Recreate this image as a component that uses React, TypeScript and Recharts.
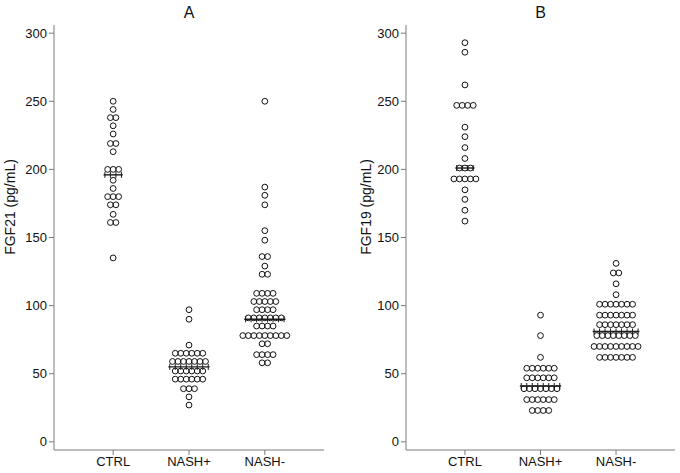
import { ScatterChart, Scatter, XAxis, YAxis } from 'recharts';

const groups = ['CTRL', 'NASH+', 'NASH-'];
const yTicks = [0, 50, 100, 150, 200, 250, 300];

// FGF21 (panel A), binned values as drawn
const fgf21Ctrl = [250, 244, 238, 238, 232, 226, 219, 219, 213, 200, 200, 200, 192, 186, 180, 180, 180, 174, 174, 167, 161, 161, 135];
const fgf21NashPos = [
  97, 90, 71,
  65, 65, 65, 65, 65, 65,
  59, 59, 59, 59, 59, 59, 59,
  52, 52, 52, 52, 52, 52,
  46, 46, 46, 46, 46, 46,
  39, 39, 39, 33, 27,
];
const fgf21NashNeg = [
  250, 187, 181, 174, 155, 148, 136, 136, 129, 123, 123,
  109, 109, 109, 109,
  103, 103, 103, 103, 103,
  97, 97, 97, 97,
  91, 91, 91, 91, 91, 91, 91,
  85, 85, 85, 85,
  78, 78, 78, 78, 78, 78, 78, 78, 78,
  72, 72,
  64, 64, 64, 64,
  58, 58,
];
const fgf21Medians = [196, 55, 90];

// FGF19 (panel B)
const fgf19Ctrl = [293, 286, 262, 247, 247, 247, 247, 231, 224, 216, 208, 201, 201, 201, 193, 193, 193, 193, 193, 185, 178, 170, 162];
const fgf19NashPos = [
  93, 78, 62,
  54, 54, 54, 54, 54, 54,
  47, 47, 47, 47, 47, 47,
  39, 39, 39, 39, 39, 39, 39,
  31, 31, 31, 31, 31, 31,
  23, 23, 23, 23,
];
const fgf19NashNeg = [
  131, 124, 124, 116, 108,
  101, 101, 101, 101, 101, 101, 101,
  93, 93, 93, 93, 93, 93, 93,
  86, 86, 86, 86, 86, 86, 86,
  78, 78, 78, 78, 78, 78, 78, 78,
  70, 70, 70, 70, 70, 70, 70, 70, 70,
  62, 62, 62, 62, 62, 62, 62,
];
const fgf19Medians = [201, 41, 81];

const DOT_GAP = 5.5;
const FONT = 'Liberation Sans, Arial, Helvetica, sans-serif';
const AXIS = '#7a7a7a';

function countRows(values: number[]) {
  const counts = new Map<number, number>();
  values.forEach((v) => counts.set(v, (counts.get(v) ?? 0) + 1));
  return counts;
}

function toPoints(values: number[], x: number) {
  const counts = countRows(values);
  const seen = new Map<number, number>();
  return values.map((v) => {
    const n = counts.get(v)!;
    const k = seen.get(v) ?? 0;
    seen.set(v, k + 1);
    return { x, y: v, slot: k - (n - 1) / 2 };
  });
}

function medianPoints(sets: number[][], medians: number[]) {
  return medians.map((m, i) => {
    const counts = countRows(sets[i]);
    let n = 1;
    counts.forEach((c, v) => {
      if (Math.abs(v - m) <= 5) n = Math.max(n, c);
    });
    return { x: i + 1, y: m, n };
  });
}

function Dot(props: any) {
  const { cx, cy, payload } = props;
  return (
    <circle
      cx={cx + payload.slot * DOT_GAP}
      cy={cy}
      r={2.9}
      fill="none"
      stroke="#111"
      strokeWidth={1}
    />
  );
}

function MedianMark(props: any) {
  const { cx, cy, payload } = props;
  const hw = ((payload.n + 0.5) * DOT_GAP) / 2;
  const ticks: number[] = [];
  for (let k = 0; k <= payload.n; k++) ticks.push(k - payload.n / 2);
  return (
    <g>
      <line x1={cx - hw} x2={cx + hw} y1={cy} y2={cy} stroke="#1a1a1a" strokeWidth={1.4} />
      {ticks.map((t) => (
        <line
          key={t}
          x1={cx + t * DOT_GAP}
          x2={cx + t * DOT_GAP}
          y1={cy - 3}
          y2={cy + 3}
          stroke="#1a1a1a"
          strokeWidth={1}
        />
      ))}
    </g>
  );
}

interface PanelProps {
  title: string;
  yLabel: string;
  sets: number[][];
  medians: number[];
  width: number;
  right: number;
  labelX: number;
}

function Panel({ title, yLabel, sets, medians, width, right, labelX }: PanelProps) {
  const medData = medianPoints(sets, medians);
  return (
    <div style={{ position: 'relative', width, height: 473 }}>
      <div
        style={{
          position: 'absolute',
          left: 54,
          width: width - 54 - right,
          top: 4,
          textAlign: 'center',
          fontFamily: FONT,
          fontSize: 16,
          color: '#111',
        }}
      >
        {title}
      </div>
      <ScatterChart width={width} height={473} margin={{ top: 25, right, bottom: 0, left: 14 }}>
        <XAxis
          type="number"
          dataKey="x"
          domain={[0.22, 3.78]}
          ticks={[1, 2, 3]}
          tickFormatter={(v: number) => groups[v - 1] ?? ''}
          height={23}
          stroke={AXIS}
          tick={{ fontSize: 13, fill: '#111', fontFamily: FONT }}
          tickSize={5}
          allowDataOverflow
        />
        <YAxis
          type="number"
          dataKey="y"
          domain={[-6, 306]}
          ticks={yTicks}
          width={40}
          stroke={AXIS}
          tick={{ fontSize: 13, fill: '#111', fontFamily: FONT }}
          tickSize={5}
          allowDataOverflow
          label={() => (
            <text
              transform={`translate(${labelX},207) rotate(-90)`}
              textAnchor="middle"
              dominantBaseline="central"
              fontSize={14}
              fontFamily={FONT}
              fill="#111"
            >
              {yLabel}
            </text>
          )}
        />
        {sets.map((vals, i) => (
          <Scatter
            key={groups[i]}
            data={toPoints(vals, i + 1)}
            shape={Dot}
            isAnimationActive={false}
          />
        ))}
        <Scatter data={medData} shape={MedianMark} isAnimationActive={false} />
      </ScatterChart>
    </div>
  );
}

export default function App() {
  return (
    <div
      style={{
        position: 'absolute',
        left: 0,
        top: 0,
        width: 680,
        height: 473,
        background: '#fff',
        display: 'flex',
      }}
    >
      <Panel
        title="A"
        yLabel="FGF21 (pg/mL)"
        sets={[fgf21Ctrl, fgf21NashPos, fgf21NashNeg]}
        medians={fgf21Medians}
        width={352}
        right={28}
        labelX={10}
      />
      <Panel
        title="B"
        yLabel="FGF19 (pg/mL)"
        sets={[fgf19Ctrl, fgf19NashPos, fgf19NashNeg]}
        medians={fgf19Medians}
        width={328}
        right={5}
        labelX={14}
      />
    </div>
  );
}
